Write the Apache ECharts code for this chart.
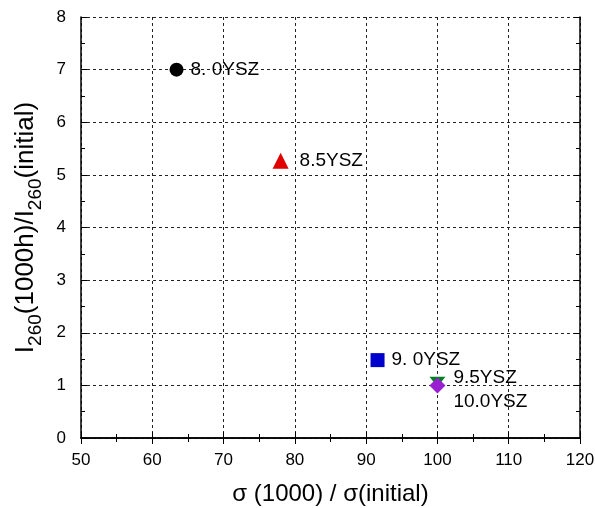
<!DOCTYPE html>
<html>
<head>
<meta charset="utf-8">
<script src="https://cdn.jsdelivr.net/npm/echarts@6/dist/echarts.min.js"></script>
<style>
  html, body { margin: 0; padding: 0; background: #fff; }
  #chart { width: 595px; height: 508px; }
</style>
</head>
<body>
<div id="chart"></div>
<script>
// sample names and measured values
const sampleNames = ['8. 0YSZ', '8.5YSZ', '9. 0YSZ', '9.5YSZ', '10.0YSZ'];
const sigmaRatio = [63.4, 78.0, 91.6, 100.0, 100.0];
const intensityRatio = [7.0, 5.27, 1.48, 1.07, 1.0];

const markerSymbols = ['circle', 'triangle', 'rect', 'triangle', 'diamond'];
const markerColors = ['#000000', '#e00000', '#0000cc', '#008020', '#9a1fd0'];
const markerSizes = [14, 16, 14, [16, 10], 16];
const markerRotate = [0, 0, 0, 180, 0];
const labelOffsets = [[7, 0], [11, 0], [7, 0], [8, -4], [8, 16]];

const chart = echarts.init(document.getElementById('chart'));
const font = 'Liberation Sans, Arial, sans-serif';

const series = sampleNames.map(function (name, i) {
  return {
    name: name,
    type: 'scatter',
    data: [[sigmaRatio[i], intensityRatio[i]]],
    symbol: markerSymbols[i],
    symbolSize: markerSizes[i],
    symbolRotate: markerRotate[i],
    itemStyle: { color: markerColors[i], opacity: 1 },
    z: i === 4 ? 5 : 3,
    label: {
      show: true,
      position: 'right',
      distance: 0,
      offset: labelOffsets[i],
      formatter: name,
      color: '#000',
      fontSize: 19,
      fontFamily: font
    }
  };
});

const gridLine = { show: true, lineStyle: { color: '#222', width: 1, type: [3, 3] } };
const axisLine = { show: true, lineStyle: { color: '#000', width: 1.5 } };

chart.setOption({
  animation: false,
  grid: { left: 81, right: 15, top: 17, bottom: 70, containLabel: false, outerBoundsMode: 'none' },
  xAxis: [
    {
      type: 'value', min: 50, max: 120, interval: 10,
      name: 'σ (1000) / σ(initial)', nameLocation: 'middle', nameGap: 44,
      nameTextStyle: { fontSize: 24, fontFamily: font, color: '#000' },
      axisLine: axisLine,
      axisTick: { show: true, inside: true, length: 6, lineStyle: { color: '#000' } },
      minorTick: { show: true, splitNumber: 2, length: 4, lineStyle: { color: '#000' } },
      axisLabel: { fontSize: 17, fontFamily: font, color: '#000', margin: 14 },
      splitLine: gridLine
    },
    {
      type: 'value', min: 50, max: 120, interval: 10, position: 'top',
      axisLine: axisLine,
      axisTick: { show: true, inside: true, length: 6, lineStyle: { color: '#000' } },
      minorTick: { show: true, splitNumber: 2, length: 4, lineStyle: { color: '#000' } },
      axisLabel: { show: false },
      splitLine: { show: false }
    }
  ],
  yAxis: [
    {
      type: 'value', min: 0, max: 8, interval: 1,
      name: '{n|I}{s|260}{n|(1000h)/I}{s|260}{n|(initial)}',
      nameLocation: 'middle', nameGap: 42, nameRotate: 90,
      nameTextStyle: {
        color: '#000',
        rich: {
          n: { fontSize: 26, fontFamily: font, color: '#000', verticalAlign: 'bottom', lineHeight: 28 },
          s: { fontSize: 19, fontFamily: font, color: '#000', verticalAlign: 'bottom', padding: [0, 0, -7, 0], lineHeight: 28 }
        }
      },
      axisLine: axisLine,
      axisTick: { show: true, inside: true, length: 6, lineStyle: { color: '#000' } },
      minorTick: { show: true, splitNumber: 2, length: 4, lineStyle: { color: '#000' } },
      axisLabel: { fontSize: 17, fontFamily: font, color: '#000', margin: 15 },
      splitLine: gridLine
    },
    {
      type: 'value', min: 0, max: 8, interval: 1, position: 'right',
      axisLine: axisLine,
      axisTick: { show: true, inside: true, length: 6, lineStyle: { color: '#000' } },
      minorTick: { show: true, splitNumber: 2, length: 4, lineStyle: { color: '#000' } },
      axisLabel: { show: false },
      splitLine: { show: false }
    }
  ],
  series: series
});
</script>
</body>
</html>
